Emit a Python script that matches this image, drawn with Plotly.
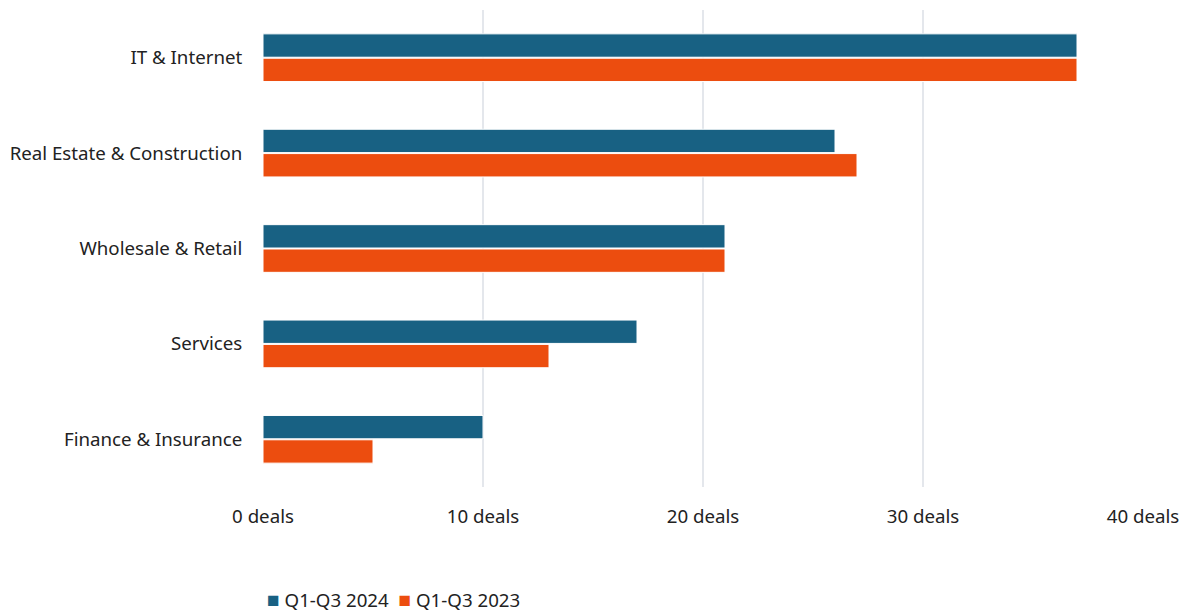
import plotly.graph_objects as go

categories = ["IT & Internet", "Real Estate & Construction", "Wholesale & Retail",
              "Services", "Finance & Insurance"]
deals_2024 = [37, 26, 21, 17, 10]
deals_2023 = [37, 27, 21, 13, 5]
series_names = ["Q1-Q3 2024", "Q1-Q3 2023"]
tick_values = [0, 10, 20, 30, 40]
tick_labels = ["0 deals", "10 deals", "20 deals", "30 deals", "40 deals"]

BLUE = "#186183"
ORANGE = "#ec4d0f"
FONT = "Noto Sans"
TEXT = "#222222"

fig = go.Figure()
for name, vals, color in [(series_names[0], deals_2024, BLUE),
                          (series_names[1], deals_2023, ORANGE)]:
    fig.add_trace(go.Bar(
        y=categories, x=vals, name=name, orientation="h",
        marker=dict(color=color, line=dict(color="white", width=1)),
        hovertemplate="%{y}: %{x} deals<extra>" + name + "</extra>",
        showlegend=False,
    ))

# compact legend row beneath the axis
legend_text = "  ".join(
    f'<span style="color:{c}; font-size:21px">■</span> {n}'
    for n, c in zip(series_names, [BLUE, ORANGE])
)
fig.add_annotation(
    text=legend_text, xref="paper", yref="paper", x=0.002, y=-0.235,
    xanchor="left", yanchor="middle", showarrow=False,
    font=dict(family=FONT, size=18.7, color=TEXT),
)

fig.update_layout(
    width=1192, height=613,
    margin=dict(l=263, r=49, t=10, b=126),
    paper_bgcolor="white", plot_bgcolor="white",
    barmode="group", bargap=0.49, bargroupgap=0.04,
    font=dict(family=FONT, size=18.7, color=TEXT),
    xaxis=dict(range=[0, 40], tickvals=tick_values, ticktext=tick_labels,
               showgrid=True, gridcolor="#e4e7ec", gridwidth=2, zeroline=False,
               showline=False, ticks="outside", ticklen=13, tickcolor="rgba(0,0,0,0)"),
    yaxis=dict(autorange="reversed", showgrid=False, zeroline=False, showline=False,
               ticks="outside", ticklen=16, tickcolor="rgba(0,0,0,0)"),
)

fig.write_html("out.html")
